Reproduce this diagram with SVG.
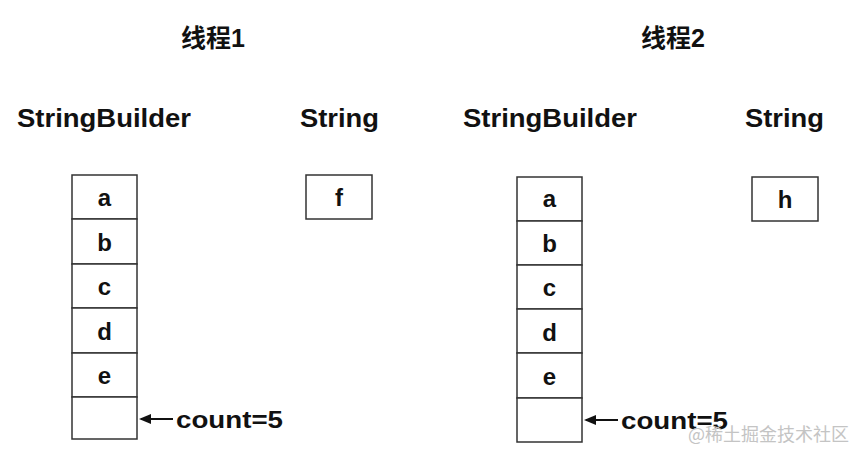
<svg xmlns="http://www.w3.org/2000/svg" width="864" height="460" viewBox="0 0 864 460">
<style>
.cell{fill:#fff;stroke:#333;stroke-width:1.5}
.t{font-family:"Liberation Sans","Noto Sans CJK SC",sans-serif;font-weight:bold;fill:#111}
.lbl{font-size:26px}
.v{font-size:24px;text-anchor:middle}
.ti{font-size:25px;text-anchor:middle}
.cnt{font-size:23px}
.conn{stroke:#111;stroke-width:2;fill:none}
.wm{font-family:"Noto Sans CJK SC",sans-serif;font-size:18px;fill:#c4c4c4}
</style>
<defs>
<marker id="ah" markerWidth="12" markerHeight="10" refX="10" refY="5" orient="auto" markerUnits="userSpaceOnUse">
<path d="M0,0 L12,5 L0,10 Z" fill="#111"/>
</marker>
</defs>
<rect width="864" height="460" fill="#fff"/>
<text class="t ti" x="213" y="47">线程1</text>
<text class="t ti" x="673" y="47">线程2</text>
<text class="t lbl" x="17" y="127" textLength="174" lengthAdjust="spacingAndGlyphs">StringBuilder</text>
<text class="t lbl" x="300" y="127" textLength="79" lengthAdjust="spacingAndGlyphs">String</text>
<text class="t lbl" x="463" y="127" textLength="174" lengthAdjust="spacingAndGlyphs">StringBuilder</text>
<text class="t lbl" x="745" y="127" textLength="79" lengthAdjust="spacingAndGlyphs">String</text>
<g id="sb1">
<rect class="cell" x="72" y="175" width="65" height="44"/>
<rect class="cell" x="72" y="219" width="65" height="45"/>
<rect class="cell" x="72" y="264" width="65" height="44"/>
<rect class="cell" x="72" y="308" width="65" height="45"/>
<rect class="cell" x="72" y="353" width="65" height="44"/>
<rect class="cell" x="72" y="397" width="65" height="42"/>
<text class="t v" x="104.5" y="206">a</text>
<text class="t v" x="104.5" y="251">b</text>
<text class="t v" x="104.5" y="295">c</text>
<text class="t v" x="104.5" y="340">d</text>
<text class="t v" x="104.5" y="384">e</text>
</g>
<g id="s1">
<rect class="cell" x="306" y="175" width="66" height="44"/>
<text class="t v" x="339" y="206">f</text>
</g>
<g id="sb2">
<rect class="cell" x="517" y="177" width="65" height="44"/>
<rect class="cell" x="517" y="221" width="65" height="44"/>
<rect class="cell" x="517" y="265" width="65" height="44"/>
<rect class="cell" x="517" y="309" width="65" height="44"/>
<rect class="cell" x="517" y="353" width="65" height="45"/>
<rect class="cell" x="517" y="398" width="65" height="44"/>
<text class="t v" x="549.5" y="207">a</text>
<text class="t v" x="549.5" y="252">b</text>
<text class="t v" x="549.5" y="296">c</text>
<text class="t v" x="549.5" y="341">d</text>
<text class="t v" x="549.5" y="385">e</text>
</g>
<g id="s2">
<rect class="cell" x="752" y="177" width="66" height="44"/>
<text class="t v" x="785" y="208">h</text>
</g>
<g id="connectors">
<line class="conn" x1="173" y1="419" x2="141" y2="419" marker-end="url(#ah)"/>
<line class="conn" x1="618" y1="420" x2="586" y2="420" marker-end="url(#ah)"/>
</g>
<text class="t cnt" x="176" y="428" textLength="107" lengthAdjust="spacingAndGlyphs">count=5</text>
<text class="t cnt" x="621" y="429" textLength="107" lengthAdjust="spacingAndGlyphs">count=5</text>
<text class="wm" x="688" y="441">@稀土掘金技术社区</text>
</svg>
